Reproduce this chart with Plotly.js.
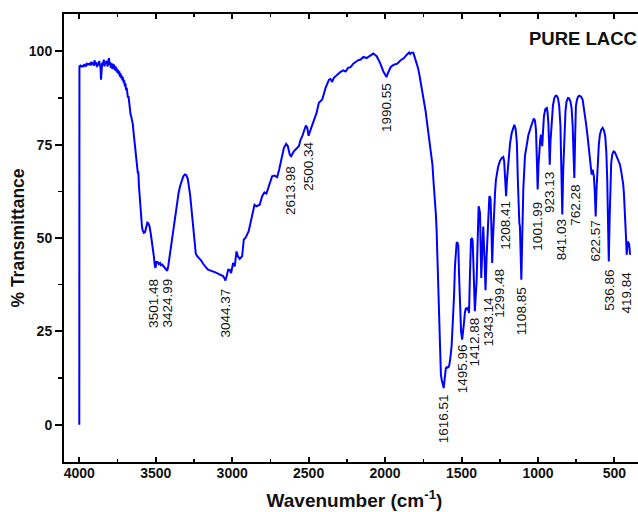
<!DOCTYPE html>
<html><head><meta charset="utf-8">
<script src="https://cdn.plot.ly/plotly-3.0.1.min.js"></script>
<style>html,body{margin:0;padding:0;overflow:hidden;background:#fff}#chart{width:660px;height:512px}</style>
</head><body><div id="chart"></div>
<script>
// FTIR spectrum of pure laccase
const wavenumber = [
4000,3999,3992,3986,3980,3975,3970,3965,3960,3955,3950,3945,3940,3935,3930,3925,3920,3915,3910,3905,
3900,3895,3890,3885,3880,3875,3870,3865,3861,3858,3855,3850,3845,3840,3835,3830,3825,3820,3815,3810,
3806,3802,3798,3794,3790,3786,3782,3778,3774,3770,3766,3762,3758,3754,3750,3746,3742,3738,3734,3730,
3726,3722,3718,3714,3710,3706,3702,3698,3694,3690,3686,3682,3678,3674,3670,3665,3660,3655,3650,3645,
3640,3635,3630,3625,3620,3617,3614,3610,3605,3600,3595,3590,3585,3578,3570,3562,3555,3548,3540,3532,
3525,3518,3512,3506,3501.48,3496,3488,3480,3472,3465,3458,3450,3440,3432,3424.99,3418,3410,3400,3390,3380,
3370,3360,3350,3340,3330,3320,3310,3300,3290,3282,3275,3268,3260,3252,3245,3238,3230,3220,3210,3200,
3190,3180,3170,3160,3150,3140,3130,3120,3110,3100,3090,3080,3070,3060,3052,3044.37,3036,3026,3016,3007,
2994,2983,2972,2962,2951,2935,2924,2913,2892,2870,2854,2841,2820,2804,2789,2776,2761,2739,2723,2706,
2693,2680,2662,2647,2636,2623,2613.98,2597,2579,2564,2553,2542,2531,2518,2509,2500.34,2483,2466,2448,2433,
2411,2389,2367,2357,2346,2335,2313,2291,2274,2258,2243,2225,2208,2193,2177,2160,2142,2121,2099,2077,
2055,2033,2011,1990.55,1981,1963,1942,1920,1898,1876,1858,1843,1836,1828,1815,1808,1800,1790,1784,1775,
1766,1758,1750,1742,1735,1727,1720,1713,1705,1697,1690,1684,1679,1674,1668,1663,1657,1652,1646,1641,
1635,1630,1622,1616.51,1612,1608,1603,1597,1590,1582,1574,1565,1557,1549,1543,1537,1532,1527,1521,1516,
1510,1503,1495.96,1490,1484,1478,1471,1466,1460,1455,1451,1445,1438,1432,1427,1420,1412.88,1405,1401,1394,
1388,1384,1379,1375,1371,1364,1358,1350,1343.14,1336,1329,1323,1318,1314,1310,1304,1299.48,1294,1288,1281,
1275,1267,1260,1249,1238,1227,1221,1215,1208.41,1203,1194,1183,1172,1163,1155,1146,1138,1132,1127,1122,
1118,1113,1108.85,1103,1096,1085,1074,1063,1052,1039,1028,1020,1013,1008,1001.99,996,991,985,980,976,
972,967,961,952,942,937,932,927,923.13,918,911,902,893,885,878,869,861,853,847,841.03,
835,828,820,813,804,797,788,780,773,767,762.28,757,752,745,738,730,719,708,697,686,
675,665,657,649,645,642,638,634,628,622.57,617,610,602,595,586,577,568,560,553,547,
542,536.86,532,529,524,521,514,505,497,489,481,472,464,456,449,443,438,433,429,424,
419.84,416,413,409,405,401,398
];
const transmittance = [
0.0,96.0,96.2,95.9,96.1,96.0,96.3,96.1,96.4,96.2,96.6,96.3,96.8,96.4,96.9,96.2,97.2,96.5,97.0,96.1,
97.6,96.4,97.1,95.8,96.9,96.2,97.4,96.0,95.5,92.4,96.2,97.0,96.3,97.8,96.0,97.3,96.6,97.5,95.9,97.0,
98.2,96.4,97.1,95.6,96.8,95.4,96.7,95.2,96.5,95.8,94.9,96.0,94.6,95.4,94.2,95.0,93.8,94.6,93.2,94.1,
92.8,93.5,92.2,93.0,91.6,92.2,90.6,91.4,89.6,90.2,88.4,87.6,88.0,86.2,85.0,83.2,82.5,81.8,80.5,78.3,
76.5,75.0,72.8,71.2,69.5,67.3,67.8,64.0,60.5,57.5,55.0,53.0,52.0,51.4,51.6,53.2,54.1,53.9,53.0,51.0,
49.0,47.5,45.0,42.6,42.0,43.6,43.6,43.0,43.3,42.7,42.9,42.5,42.0,41.6,41.2,42.5,44.8,48.0,51.5,54.5,
57.5,60.0,62.2,64.0,65.5,66.5,67.0,66.8,65.8,63.8,61.5,58.5,54.5,50.5,47.5,45.8,45.2,44.8,44.4,43.8,
43.1,42.5,42.0,41.6,41.4,41.3,41.0,41.0,40.8,40.6,40.4,40.2,40.0,39.8,39.3,38.6,39.8,41.5,41.5,40.6,
43.3,42.4,46.4,45.1,44.4,45.1,49.6,50.0,51.8,55.8,58.9,58.5,58.9,61.2,62.2,61.9,63.8,66.5,66.7,66.3,
68.3,71.0,74.1,75.2,74.6,72.3,71.9,73.2,74.1,74.6,76.3,77.2,78.6,80.1,79.5,77.4,79.5,81.7,83.5,86.2,
87.1,90.2,92.4,92.6,91.8,92.9,93.8,94.5,94.9,94.6,95.5,95.8,96.7,97.1,97.6,97.8,98.5,98.2,98.8,99.4,
98.7,96.9,94.6,93.1,94.2,95.8,96.4,96.7,97.6,98.2,99.1,99.7,99.3,99.6,99.6,98.8,97.6,96.2,95.5,93.6,
91.6,89.9,88.0,86.3,84.0,81.4,79.0,77.0,74.8,72.5,69.6,65.6,63.0,60.3,56.5,52.2,43.0,34.4,25.0,16.5,
13.5,12.1,10.3,9.8,11.5,13.8,15.0,15.4,15.3,15.6,17.5,21.0,27.0,34.4,42.4,46.0,48.7,48.9,47.8,40.0,
29.9,25.0,22.8,24.5,27.2,30.0,31.3,31.0,30.8,31.5,29.9,40.0,49.6,50.0,49.1,40.0,30.4,36.0,38.8,50.0,
58.5,57.8,56.7,48.0,39.3,47.0,53.1,45.0,36.0,45.0,53.1,58.5,61.2,61.0,60.3,52.0,43.3,50.0,56.7,62.0,
65.6,67.8,69.2,70.6,71.4,71.7,70.5,66.0,61.2,65.5,71.0,75.2,78.1,79.6,80.3,79.2,75.5,66.0,54.5,54.0,
53.1,46.0,38.8,50.0,63.0,72.0,75.5,77.5,79.0,80.8,82.0,81.5,79.0,72.0,63.0,70.0,74.6,76.5,77.7,75.0,
74.6,78.5,82.6,84.5,84.8,83.5,80.8,75.0,69.6,76.0,81.7,85.5,87.5,88.1,88.1,87.5,85.3,80.0,68.0,56.3,
68.0,79.0,84.0,86.6,87.5,87.4,86.6,84.8,80.0,72.0,66.1,77.0,85.3,87.0,87.8,88.1,87.9,87.1,84.5,80.8,
77.0,73.2,70.5,67.0,67.8,68.3,67.2,66.5,62.0,55.8,63.0,70.1,75.0,77.7,79.0,79.5,78.8,77.2,73.0,65.6,
56.0,43.7,54.0,61.2,68.0,70.1,72.4,73.2,73.0,72.3,71.4,70.6,69.7,68.0,66.5,64.5,62.1,58.8,54.9,50.0,
45.5,48.0,49.1,48.5,48.7,47.2,45.5
];
const peakLabels = ["3501.48","3424.99","3044.37","2613.98","2500.34","1990.55","1616.51","1495.96",
  "1412.88","1343.14","1299.48","1208.41","1108.85","1001.99","923.13","841.03","762.28","622.57","536.86","419.84"];
const xTickVals = [4000,3500,3000,2500,2000,1500,1000,500];
const yTickVals = [0,25,50,75,100];
const sampleName = "PURE LACC";

// label placement (px): gap below the band minimum and sideways nudge
const labelGap = {"3501.48":9,"3424.99":6,"3044.37":6,"2613.98":8,"2500.34":4,"1990.55":4,"1616.51":4,
  "1495.96":3,"1412.88":4,"1343.14":5,"1299.48":0,"1208.41":3,"1108.85":5,"1001.99":10,"923.13":5,
  "841.03":3,"762.28":5,"622.57":2,"536.86":6,"419.84":15};
const labelNudge = {"3501.48":-2,"1343.14":3,"1299.48":7,"762.28":1};

const FONT = "Liberation Sans, Arial, Helvetica, sans-serif";

const annotations = peakLabels.map(function(lbl){
  const w = parseFloat(lbl);
  const i = wavenumber.indexOf(w);
  return {
    x: w, y: transmittance[i], xref: "x", yref: "y",
    text: lbl, showarrow: false, textangle: -90,
    xanchor: "center", yanchor: "top",
    yshift: -(labelGap[lbl] || 4), xshift: (labelNudge[lbl] || 0),
    font: {family: FONT, size: 13.5, color: "#111"}
  };
});
const W = 660, H = 512, M = {l:64, r:15, t:14, b:50};
annotations.push({
  x: (527 - M.l) / (W - M.l - M.r), y: 1 - (38 - M.t) / (H - M.t - M.b),
  xref: "paper", yref: "paper", text: "<b>" + sampleName + "</b>",
  showarrow: false, xanchor: "left", yanchor: "middle",
  font: {family: FONT, size: 18.5, color: "#111"}
});

const trace = {
  x: wavenumber, y: transmittance, type: "scatter", mode: "lines",
  line: {color: "#0000ff", width: 2}, hoverinfo: "skip"
};

const layout = {
  width: W, height: H, margin: M,
  paper_bgcolor: "#fff", plot_bgcolor: "#fff", showlegend: false,
  font: {family: FONT, color: "#111"},
  xaxis: {
    range: [4100, 300], tickvals: xTickVals, ticktext: xTickVals.map(String),
    ticks: "inside", ticklen: 5, tickwidth: 2, tickcolor: "#000",
    minor: {dtick: 250, tick0: 0, ticks: "inside", ticklen: 3, tickwidth: 1.5, tickcolor: "#000"},
    showline: true, linecolor: "#000", linewidth: 2, mirror: "ticks",
    showgrid: false, zeroline: false, ticklabelstandoff: -3,
    tickfont: {family: FONT, size: 14, color: "#111", weight: "bold"},
    title: {text: "<b>Wavenumber (cm<sup>-1</sup>)</b>", font: {family: FONT, size: 19, color: "#111"}, standoff: 14}
  },
  yaxis: {
    range: [-10, 110], tickvals: yTickVals, ticktext: yTickVals.map(String),
    ticks: "outside", ticklen: 7, tickwidth: 2, tickcolor: "#000",
    minor: {dtick: 12.5, tick0: 0, ticks: "outside", ticklen: 4, tickwidth: 1.5, tickcolor: "#000"},
    showline: true, linecolor: "#000", linewidth: 2, mirror: true,
    showgrid: false, zeroline: false,
    tickfont: {family: FONT, size: 14, color: "#111", weight: "bold"},
    title: {text: "<b>% Transmittance</b>", font: {family: FONT, size: 17.5, color: "#111"}, standoff: 0}
  },
  annotations: annotations
};

Plotly.newPlot("chart", [trace], layout, {displayModeBar: false, staticPlot: true});
</script></body></html>
